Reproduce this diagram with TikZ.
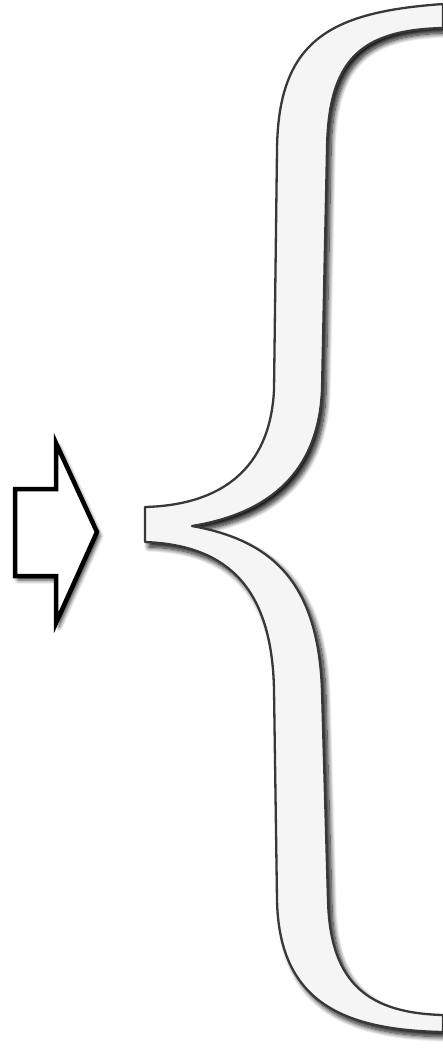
\documentclass[tikz,border=0pt]{standalone}
\usetikzlibrary{shadows.blur}
\definecolor{bracefill}{HTML}{F5F5F5}
\definecolor{braceline}{HTML}{383838}
\tikzset{
  braceshape/.style={fill=bracefill, draw=braceline, line width=2.3pt, line join=round,
    blur shadow={shadow xshift=4pt, shadow yshift=-5pt, shadow blur radius=5pt, shadow blur steps=12, shadow opacity=95}},
  arrowshape/.style={fill=white, draw=black, line width=4.5pt, line join=miter,
    blur shadow={shadow xshift=3pt, shadow yshift=-4pt, shadow blur radius=4pt, shadow opacity=80}}
}
\begin{document}
\begin{tikzpicture}[x=1pt,y=-1pt]
\useasboundingbox (0,0) rectangle (443,1054);
% brace
\path[braceshape]
 (443,4) .. controls (330,12) and (278,40) .. (277,150)
 -- (274,390) .. controls (270,470) and (220,505) .. (145,507)
 -- (145,542) .. controls (220,545) and (272,580) .. (274,690)
 -- (277,900) .. controls (279,1000) and (340,1030) .. (443,1032)
 -- (443,1015) .. controls (370,1013) and (330,985) .. (328,900)
 -- (322,690) .. controls (318,580) and (270,540) .. (192,526)
 .. controls (260,515) and (318,480) .. (322,390)
 -- (327,150) .. controls (328,60) and (360,30) .. (443,28) -- cycle;
% arrow
\path[arrowshape]
 (15,489) -- (56,489) -- (56,443) -- (97,532) -- (56,623) -- (56,576) -- (15,576) -- cycle;
\end{tikzpicture}
\end{document}
